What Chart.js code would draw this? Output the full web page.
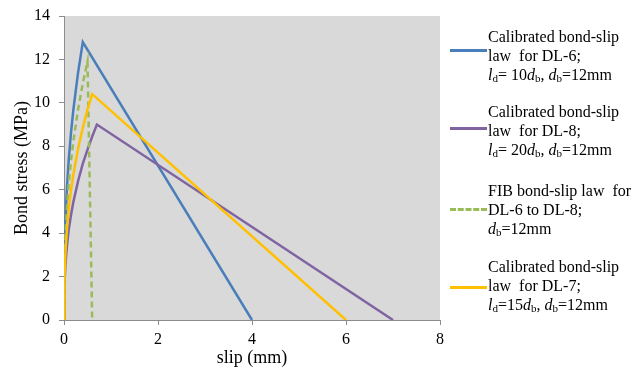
<!DOCTYPE html>
<html>
<head>
<meta charset="utf-8">
<script src="https://cdn.jsdelivr.net/npm/chart.js@4.4.0/dist/chart.umd.min.js"></script>
<style>
  html, body { margin: 0; padding: 0; background: #fff; }
  #wrap { position: relative; width: 644px; height: 369px; }
  #chart { position: absolute; left: 0; top: 0; }
  .leg { position: absolute; left: 488px; font-family: "Liberation Serif", "Times New Roman", serif;
         font-size: 16px; line-height: 19px; color: #000; white-space: nowrap; }
  .leg sub { font-size: 11px; vertical-align: -2px; line-height: 0; }
  .swatch { position: absolute; left: 450px; width: 37px; height: 0; border-top: 3px solid; }
</style>
</head>
<body>
<div id="wrap">
  <canvas id="chart" width="644" height="369"></canvas>

  <div class="swatch" style="top:49px;border-color:#4a7ebb"></div>
  <div class="leg" style="top:27px">Calibrated bond-slip<br>law&nbsp; for DL-6;<br><i>l</i><sub>d</sub>= 10<i>d</i><sub>b</sub>, <i>d</i><sub>b</sub>=12mm</div>

  <div class="swatch" style="top:127px;border-color:#8064a2"></div>
  <div class="leg" style="top:102px">Calibrated bond-slip<br>law&nbsp; for DL-8;<br><i>l</i><sub>d</sub>= 20<i>d</i><sub>b</sub>, <i>d</i><sub>b</sub>=12mm</div>

  <div class="swatch" style="top:208px;border-color:#9bbb59;border-top-style:dashed"></div>
  <div class="leg" style="top:181px">FIB bond-slip law&nbsp; for<br>DL-6 to DL-8;<br><i>d</i><sub>b</sub>=12mm</div>

  <div class="swatch" style="top:286px;border-color:#ffc000"></div>
  <div class="leg" style="top:257px">Calibrated bond-slip<br>law&nbsp; for DL-7;<br><i>l</i><sub>d</sub>=15<i>d</i><sub>b</sub>, <i>d</i><sub>b</sub>=12mm</div>
</div>
<script>
// slip (mm) / bond stress (MPa)
const dl6Slip   = [0, 0.01, 0.03, 0.06, 0.1, 0.15, 0.2, 0.3, 0.4, 4];
const dl6Stress = [0, 2.9, 4.5, 6.0, 7.35, 8.65, 9.7, 11.4, 12.8, 0];

const dl8Slip   = [0, 0.01, 0.03, 0.06, 0.1, 0.15, 0.2, 0.3, 0.4, 0.5, 0.6, 0.7, 7];
const dl8Stress = [0, 1.65, 2.55, 3.35, 4.15, 4.85, 5.45, 6.4, 7.2, 7.85, 8.45, 9.0, 0];

const fibSlip   = [0, 0.01, 0.03, 0.06, 0.1, 0.15, 0.2, 0.3, 0.4, 0.5, 0.6];
const fibStress = [0, 2.5, 3.9, 5.1, 6.25, 7.35, 8.25, 9.7, 10.9, 11.9, 0];

const dl7Slip   = [0, 0.01, 0.03, 0.06, 0.1, 0.15, 0.2, 0.3, 0.4, 0.5, 0.6, 6];
const dl7Stress = [0, 2.0, 3.1, 4.1, 5.1, 6.0, 6.7, 7.9, 8.85, 9.7, 10.4, 0];

const xTicks = [0, 2, 4, 6, 8];
const yTicks = [0, 2, 4, 6, 8, 10, 12, 14];

function pts(xs, ys) {
  return xs.map((x, i) => ({ x: x, y: ys[i] }));
}

const serif = '"Liberation Serif", "Times New Roman", serif';

// gray plot background
const plotBg = {
  id: 'plotBg',
  beforeDraw(chart) {
    const { ctx, chartArea: a } = chart;
    ctx.save();
    ctx.fillStyle = '#d9d9d9';
    ctx.fillRect(a.left, a.top, a.right - a.left, a.bottom - a.top);
    ctx.restore();
  }
};

const ctx = document.getElementById('chart').getContext('2d');
new Chart(ctx, {
  type: 'line',
  data: {
    datasets: [
      { label: 'DL-6', data: pts(dl6Slip, dl6Stress), borderColor: '#4a7ebb', order: 3 },
      { label: 'DL-8', data: pts(dl8Slip, dl8Stress), borderColor: '#8064a2', order: 2 },
      { label: 'FIB', data: pts(fibSlip, fibStress), borderColor: '#9bbb59', borderDash: [6, 4], order: 1 },
      { label: 'DL-7', data: pts(dl7Slip, dl7Stress), borderColor: '#ffc000', order: 0 }
    ].map(d => Object.assign(d, { borderWidth: 2.5, pointRadius: 0, tension: 0, fill: false }))
  },
  options: {
    responsive: false,
    animation: false,
    layout: { padding: { left: 0, right: 204, top: 16, bottom: 0 } },
    plugins: { legend: { display: false }, tooltip: { enabled: false } },
    scales: {
      x: {
        type: 'linear', min: 0, max: 8,
        afterBuildTicks: (s) => { s.ticks = xTicks.map(v => ({ value: v })); },
        afterFit: (s) => { s.height = 49; s.paddingLeft = 0; s.paddingRight = 0; },
        border: { display: true, color: '#8c8c8c', width: 1 },
        grid: { drawOnChartArea: false, drawTicks: true, tickLength: 5, color: '#8c8c8c' },
        ticks: { color: '#000', font: { family: serif, size: 16 }, padding: 5, maxRotation: 0 },
        title: { display: true, text: 'slip (mm)', color: '#000', font: { family: serif, size: 18 }, padding: { top: -9, bottom: 0 } }
      },
      y: {
        type: 'linear', min: 0, max: 14,
        afterBuildTicks: (s) => { s.ticks = yTicks.map(v => ({ value: v })); },
        afterFit: (s) => { s.width = 64; s.paddingTop = 0; s.paddingBottom = 0; },
        border: { display: true, color: '#8c8c8c', width: 1 },
        grid: { drawOnChartArea: false, drawTicks: true, tickLength: 5, color: '#8c8c8c' },
        ticks: { color: '#000', font: { family: serif, size: 16 }, padding: 9 },
        title: { display: true, text: 'Bond stress (MPa)', color: '#000', font: { family: serif, size: 18 }, padding: { top: 11, bottom: 0 } }
      }
    }
  },
  plugins: [plotBg]
});
</script>
</body>
</html>
